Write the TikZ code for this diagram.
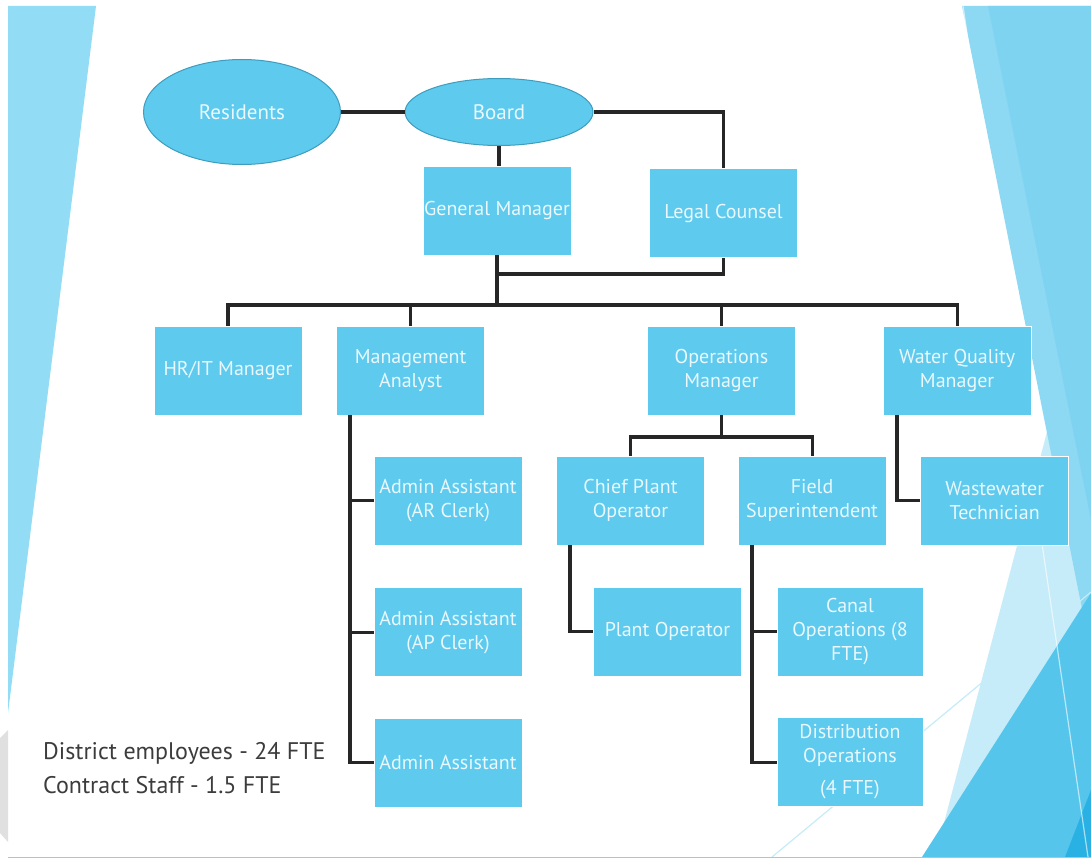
\documentclass[tikz,border=0pt]{standalone}
\usepackage{fontspec}
\setmainfont{PT Sans}
\usetikzlibrary{positioning,shapes.geometric}
\definecolor{facet}{HTML}{5DCAEE}
\definecolor{rim}{HTML}{3E9DBF}
\definecolor{paper}{HTML}{EAF8FD}
\definecolor{ink}{HTML}{262626}
\definecolor{wedge}{HTML}{92DCF5}
\definecolor{pale}{HTML}{C5ECF8}
\definecolor{sky}{HTML}{8DD8F3}
\definecolor{mid}{HTML}{7ED3F0}
\definecolor{deep}{HTML}{55C5EB}
\definecolor{deeper}{HTML}{2AB1E4}
\tikzset{
    chart/.style={x=1pt,y=-1pt,font=\fontsize{20}{24}\selectfont},
    office/.style={rectangle, fill=facet, draw=white, line width=0.6pt,
                   text=paper, minimum width=148pt, minimum height=89pt,
                   inner xsep=0pt, align=center},
    council/.style={ellipse, fill=facet, draw=rim, line width=1pt,
                    text=paper, inner sep=0pt, font=\fontsize{21}{24}\selectfont},
    wire/.style={draw=ink, line width=3.2pt},
    tally/.style={text=ink!90, align=left, inner sep=0pt,
                  font=\fontsize{24}{34}\selectfont},
    }

\begin{document}
\begin{tikzpicture}[chart]
    \useasboundingbox (0,0) rectangle (1091,859);
    % slide decoration
    \fill[white] (0,0) rectangle (1091,859);
    \fill[wedge] (8,6) -- (96,6) -- (8,713) -- cycle;
    \fill[black!12] (0,738) -- (8,730) -- (8,842) -- (0,833) -- cycle;
    \fill[pale] (1091,265) -- (935,857) -- (1091,857) -- cycle;
    \fill[sky] (962,6) -- (1091,6) -- (1091,654) -- cycle;
    \fill[mid] (988,6) -- (1091,6) -- (1091,520) -- cycle;
    \fill[deep] (922,857) -- (1091,857) -- (1091,593) -- cycle;
    \fill[deeper] (1065,857) -- (1091,857) -- (1091,790) -- cycle;
    \draw[pale, line width=1.2pt] (772,857) -- (1091,592);
    \draw[white, opacity=0.6, line width=1.2pt] (963,6) -- (1088,857);
    \draw[black!25, line width=1.2pt] (8,857.5) -- (1091,857.5);

    % top
    \node[council, minimum width=197pt, minimum height=105pt] (residents) at (242,112) {Residents};
    \node[council, minimum width=188pt, minimum height=67pt] (board) at (499,112) {Board};
    \node[office] (gm) at (497,210.5) {General Manager};
    \node[office] (legal) at (723.5,213) {Legal Counsel};

    \coordinate (joint) at (0,274);
    \coordinate (bus) at (0,305);
    \coordinate (opsbar) at (0,437);
    \coordinate (aspine) at (350,0);
    \coordinate (cspine) at (570,0);
    \coordinate (fspine) at (752,0);
    \coordinate (wspine) at (897,0);

    % managers
    \node[office] (hr) at (228,370.5) {HR/IT Manager};
    \node[office, right=34pt of hr] (analyst) {Management\\Analyst};
    \node[office] (ops) at (721.5,370.5) {Operations\\Manager};
    \node[office, right=87pt of ops] (wqm) {Water Quality\\Manager};

    % staff
    \node[office] (clerkar) at (448,500.5) {Admin Assistant\\(AR Clerk)};
    \node[office, below=42pt of clerkar] (clerkap) {Admin Assistant\\(AP Clerk)};
    \node[office, below=41pt of clerkap] (admin) {Admin Assistant};
    \node[office] (chief) at (630.5,500.5) {Chief Plant\\Operator};
    \node[office, right=33pt of chief] (field) {Field\\Superintendent};
    \node[office, right=34pt of field] (wastewater) {Wastewater\\Technician};
    \node[office] (plant) at (667.5,631.5) {Plant Operator};
    \node[office, minimum width=146pt] (canal) at (850,631.5) {Canal\\Operations (8\\FTE)};
    \node[office, minimum width=146pt, below=41pt of canal] (distrib) {Distribution\\Operations\\[8pt](4 FTE)};

    \node[tally, anchor=north west] (staff) at (43,742) {District employees - 24 FTE\\Contract Staff - 1.5 FTE};

    \draw[wire] (residents) -- (board);
    \draw[wire] (board.east) -| (legal.north);
    \draw[wire] (board.south) -- (board.south |- gm.north);
    \draw[wire] (legal.south) |- (gm.south |- joint);
    \draw[wire] (gm.south) -- (gm.south |- bus);
    \draw[wire] (hr.north) |- (wqm.north |- bus) -- (wqm.north);
    \draw[wire] (analyst.north) -- (analyst.north |- bus);
    \draw[wire] (ops.north) -- (ops.north |- bus);

    \draw[wire] (aspine |- analyst.south) |- (admin.west);
    \draw[wire] (aspine |- clerkar) -- (clerkar.west);
    \draw[wire] (aspine |- clerkap) -- (clerkap.west);
    \draw[wire] (ops.south) -- (ops.south |- opsbar);
    \draw[wire] (chief.north) |- (field.north |- opsbar) -- (field.north);
    \draw[wire] (wspine |- wqm.south) |- (wastewater.west);
    \draw[wire] (cspine |- chief.south) |- (plant.west);
    \draw[wire] (fspine |- field.south) |- (distrib.west);
    \draw[wire] (fspine |- canal) -- (canal.west);
\end{tikzpicture}
\end{document}
